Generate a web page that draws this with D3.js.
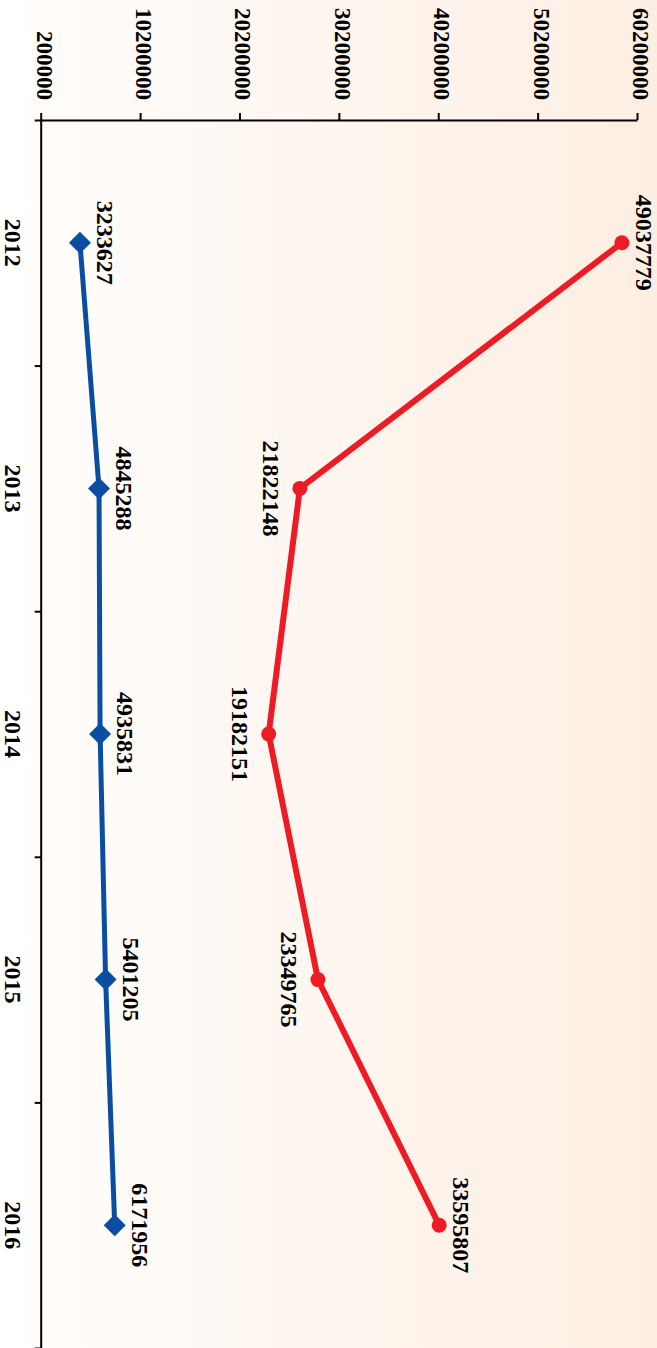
<!DOCTYPE html>
<html>
<head>
<meta charset="utf-8">
<script src="https://cdn.jsdelivr.net/npm/d3@7"></script>
<style>
  html, body { margin: 0; padding: 0; background: #ffffff; }
  svg { display: block; }
  text { font-family: "Liberation Serif", "Times New Roman", serif; font-weight: bold; fill: #000; }
</style>
</head>
<body>
<div id="idChart"></div>
<script>
// data
var years = ["2012", "2013", "2014", "2015", "2016"];
var redValues = [49037779, 21822148, 19182151, 23349765, 33595807];
var blueValues = [3233627, 4845288, 4935831, 5401205, 6171956];
var tickLabels = ["200000", "10200000", "20200000", "30200000", "40200000", "50200000", "60200000"];

// label side for the red series (true = below the point)
var redBelow = [false, true, true, true, false];

function drawChart()
{
    var iPageW = 657;
    var iPageH = 1348;

    // the chart lies on its side: build it in a 1348 x 657 frame, then turn it 90 deg
    var W = iPageH;
    var iLeft = 120, iRight = W, iTop = 19, iBottom = 615.3;

    var svg = d3.select("#idChart").append("svg")
        .attr("width", iPageW)
        .attr("height", iPageH);

    var grad = svg.append("defs").append("linearGradient")
        .attr("id", "bgGrad")
        .attr("x1", "0").attr("y1", "0").attr("x2", "0").attr("y2", "1");
    grad.append("stop").attr("offset", "0%").attr("stop-color", "#fdeee2");
    grad.append("stop").attr("offset", "100%").attr("stop-color", "#fffdfb");

    var g = svg.append("g").attr("transform", "translate(" + iPageW + ",0) rotate(90)");

    g.append("rect")
        .attr("x", 0).attr("y", 0)
        .attr("width", W).attr("height", 627)
        .attr("fill", "url(#bgGrad)");

    var x = d3.scaleBand().domain(years).range([iLeft, iRight]);
    var xEdge = d3.scaleLinear().domain([0, years.length]).range([iLeft, iRight]);
    var y = d3.scaleLinear().domain([0, 50400000]).range([iBottom, iTop]);
    var yTick = d3.scalePoint().domain(tickLabels).range([iBottom, iTop]);

    function cx(d, i) { return x(years[i]) + x.bandwidth() / 2; }

    // value axis
    var yAxis = g.append("g")
        .attr("transform", "translate(" + iLeft + ",0)")
        .call(d3.axisLeft(yTick).tickSize(7).tickSizeOuter(0).tickPadding(13));
    yAxis.selectAll("text").attr("dy", "0.2em").style("font-size", "23px");

    // category axis: ticks on the band edges, labels in the middle
    g.append("g")
        .attr("transform", "translate(0," + iBottom + ")")
        .call(d3.axisBottom(xEdge).tickValues(d3.range(0, years.length + 1)).tickSize(7).tickSizeOuter(0).tickFormat(""));

    var xAxis = g.append("g")
        .attr("transform", "translate(0," + iBottom + ")")
        .call(d3.axisBottom(x).tickSize(0).tickPadding(20));
    xAxis.select(".domain").remove();
    xAxis.selectAll("text").style("font-size", "24px");

    g.selectAll(".domain, .tick line").attr("stroke", "#000").attr("stroke-width", 2);

    var line = d3.line()
        .x(cx)
        .y(function(d) { return y(d); });

    // red series
    g.append("path")
        .datum(redValues)
        .attr("fill", "none")
        .attr("stroke", "#ed1c24")
        .attr("stroke-width", 6)
        .attr("stroke-linejoin", "round")
        .attr("d", line);

    g.selectAll(".redDot")
        .data(redValues)
        .enter().append("circle")
        .attr("class", "redDot")
        .attr("cx", cx)
        .attr("cy", function(d) { return y(d); })
        .attr("r", 7.5)
        .attr("fill", "#ed1c24");

    // blue series
    g.append("path")
        .datum(blueValues)
        .attr("fill", "none")
        .attr("stroke", "#0a4ea2")
        .attr("stroke-width", 5)
        .attr("stroke-linejoin", "round")
        .attr("d", line);

    g.selectAll(".blueDot")
        .data(blueValues)
        .enter().append("path")
        .attr("class", "blueDot")
        .attr("transform", function(d, i) { return "translate(" + cx(d, i) + "," + y(d) + ")"; })
        .attr("d", "M0,-11L11,0L0,11L-11,0Z")
        .attr("fill", "#0a4ea2");

    // data labels
    g.selectAll(".redLabel")
        .data(redValues)
        .enter().append("text")
        .attr("class", "redLabel")
        .attr("x", cx)
        .attr("y", function(d, i) { return y(d) + (redBelow[i] ? 37 : -14); })
        .attr("text-anchor", "middle")
        .style("font-size", "24px")
        .text(function(d) { return d; });

    g.selectAll(".blueLabel")
        .data(blueValues)
        .enter().append("text")
        .attr("class", "blueLabel")
        .attr("x", cx)
        .attr("y", function(d) { return y(d) - 17; })
        .attr("text-anchor", "middle")
        .style("font-size", "24px")
        .text(function(d) { return d; });
}

drawChart();
</script>
</body>
</html>
